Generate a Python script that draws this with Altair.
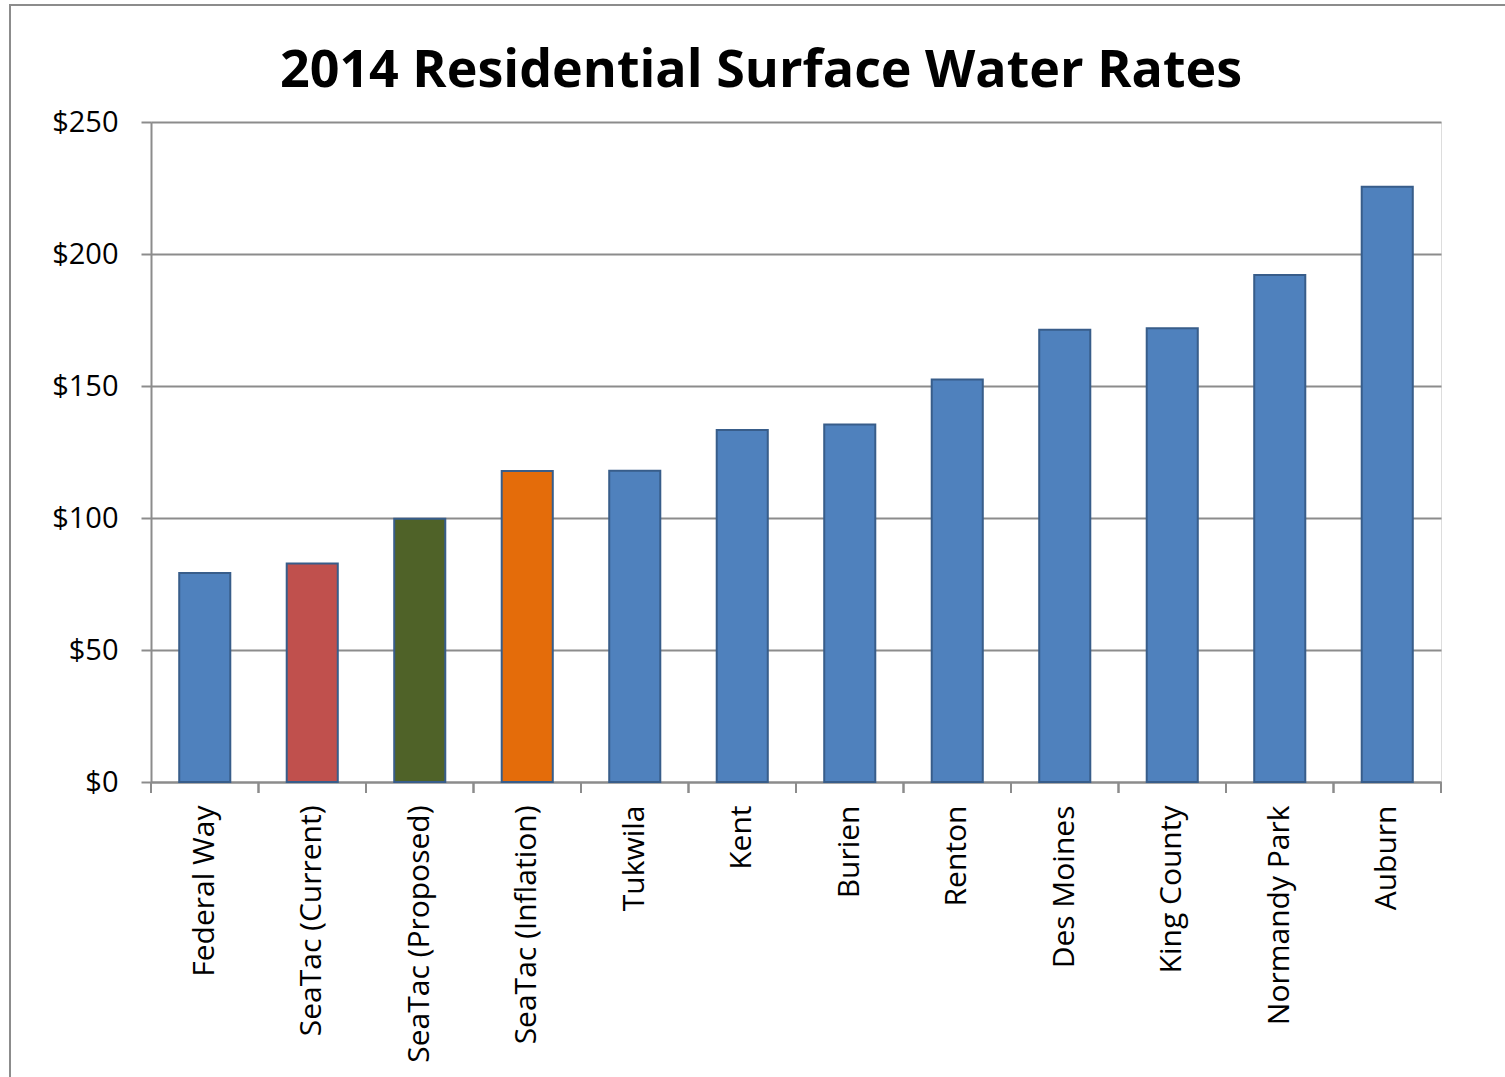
import altair as alt
import pandas as pd

TITLE = "2014 Residential Surface Water Rates"
categories = ["Federal Way", "SeaTac (Current)", "SeaTac (Proposed)", "SeaTac (Inflation)",
              "Tukwila", "Kent", "Burien", "Renton", "Des Moines", "King County",
              "Normandy Park", "Auburn"]
rates = [79.2, 82.8, 99.7, 117.8, 117.9, 133.3, 135.4, 152.5, 171.3, 171.9, 192.0, 225.5]
bar_colors = ["#4F81BD", "#C0504D", "#4F6228", "#E46C0A", "#4F81BD", "#4F81BD",
              "#4F81BD", "#4F81BD", "#4F81BD", "#4F81BD", "#4F81BD", "#4F81BD"]

df = pd.DataFrame({"city": categories, "rate": rates})
title_df = pd.DataFrame({"t": [TITLE]})

FONT = "Open Sans"
GRAY = "#8c8c8c"

xscale = alt.Scale(domain=categories, paddingInner=0, paddingOuter=0)

bars = alt.Chart(df).mark_bar(
    width=alt.RelativeBandSize(0.475), stroke="#385D8A", strokeWidth=2
).encode(
    x=alt.X("city:N", sort=categories, scale=xscale,
            axis=alt.Axis(title=None, labelAngle=-90, ticks=False, labelPadding=23,
                          labelFontSize=30, labelFont=FONT, labelColor="black",
                          domainColor=GRAY, domainWidth=2, labelAlign="right",
                          labelBaseline="middle", labelLimit=400)),
    y=alt.Y("rate:Q", scale=alt.Scale(domain=[0, 250], nice=False),
            axis=alt.Axis(title=None, values=[0, 50, 100, 150, 200, 250], format="$,.0f",
                          tickSize=10, tickColor=GRAY, tickWidth=2, domainColor=GRAY,
                          domainWidth=2, gridColor=GRAY, gridWidth=2, labelPadding=23,
                          labelFontSize=29, labelFont=FONT, labelColor="black")),
    color=alt.Color("city:N", scale=alt.Scale(domain=categories, range=bar_colors), legend=None),
)

ticks_start = alt.Chart(df).mark_rule(color=GRAY, strokeWidth=2).encode(
    x=alt.X("city:N", sort=categories, scale=xscale, bandPosition=0),
    y=alt.value(660), y2=alt.value(671),
)
ticks_end = alt.Chart(df).mark_rule(color=GRAY, strokeWidth=2).encode(
    x=alt.X("city:N", sort=categories, scale=xscale, bandPosition=1),
    y=alt.value(660), y2=alt.value(671),
)

frame = alt.Chart(df).mark_rect(fill=None, stroke=GRAY, strokeWidth=2).encode(
    x=alt.value(-141), x2=alt.value(1600), y=alt.value(-117), y2=alt.value(1100)
).transform_filter(alt.datum.city == "Auburn")

title = alt.Chart(title_df).mark_text(
    font=FONT, fontSize=52, fontWeight="bold", color="black", align="center",
    baseline="alphabetic"
).encode(text="t:N", x=alt.value(610), y=alt.value(-35))

chart = alt.layer(frame, bars, ticks_start, ticks_end, title).properties(
    width=1290, height=660,
    autosize=alt.AutoSizeParams(type="none"),
    padding={"left": 151, "top": 122, "right": 64, "bottom": 295},
).configure_view(fill="#E8ECF5", stroke=None).configure(background="white")

chart.save("out.html", embed_options={"renderer": "svg", "actions": False})
